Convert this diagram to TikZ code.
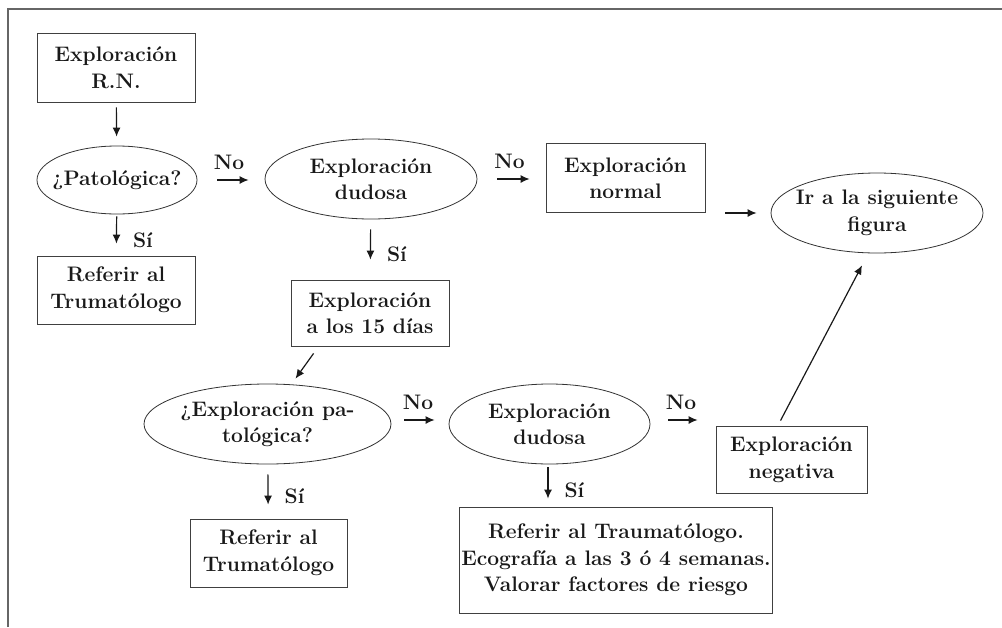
\documentclass[tikz,border=0pt]{standalone}
\usepackage{fontspec}
\usetikzlibrary{shapes.geometric,arrows.meta,calc}
\begin{document}
\begin{tikzpicture}[x=1pt,y=-1pt,
  every node/.style={font=\fontsize{21}{26.5}\selectfont\bfseries\addfontfeatures{LetterSpace=2}, text=black!90},
  box/.style={draw=black!75, line width=0.8pt, rectangle, align=center, inner sep=0pt},
  oval/.style={draw=black!80, line width=0.8pt, ellipse, align=center, inner xsep=-60pt, inner ysep=-30pt, minimum height=80pt},
  arr/.style={-{Latex[length=9pt,width=8pt]}, line width=1.2pt, black!90},
  lbl/.style={inner sep=2pt},
  si/.style={lbl, right, xshift=14pt, yshift=-5pt},
  no/.style={lbl, above, yshift=8pt, xshift=-2pt}
]
\useasboundingbox (0,0) rectangle (1002,627);
\draw[black!60, line width=1.2pt] (8,627) -- (8,9) -- (1002,9);

% row 1
\node[box, minimum width=158pt, minimum height=69pt] (rn) at (116,67.5) {Exploración\\R.N.};
\node[oval, minimum width=160pt, minimum height=68pt] (pat) at (117,180) {¿Patológica?};
\node[oval, minimum width=212pt] (dud1) at (371,179) {Exploración\\dudosa};
\node[box, minimum width=159pt, minimum height=69pt] (norm) at (625.5,178) {Exploración\\normal};
\node[oval, minimum width=212pt] (sig) at (877,213) {Ir a la siguiente\\figura};
\node[box, minimum width=158pt, minimum height=68pt] (ref1) at (116,290) {Referir al\\Trumatólogo};
\node[box, minimum width=158pt, minimum height=66pt] (d15) at (370,313) {Exploración\\a los 15 días};

% row 2
\node[oval, minimum width=247pt] (pat2) at (267.5,424) {¿Exploración pa-\\tológica?};
\node[oval, minimum width=201pt] (dud2) at (549.5,424) {Exploración\\dudosa};
\node[box, minimum width=151pt, minimum height=67pt] (neg) at (791.5,459.5) {Exploración\\negativa};
\node[box, minimum width=157pt, minimum height=68pt] (ref2) at (268.5,553) {Referir al\\Trumatólogo};
\node[box, minimum width=313pt, minimum height=106pt] (trau) at (616,560) {Referir al Traumatólogo.\\Ecografía a las 3 ó 4 semanas.\\Valorar factores de riesgo};

% connectors
\draw[arr, shorten <=5pt, shorten >=9pt] (rn) -- (pat);
\draw[arr, shorten <=2pt, shorten >=12pt] (pat) -- node[si] {Sí} (ref1);
\draw[arr, shorten <=20pt, shorten >=16pt] (pat.east) -- node[no] {No} (pat.east -| dud1.west);
\draw[arr, shorten <=10pt, shorten >=20pt] (dud1) -- node[si] {Sí} (d15);
\draw[arr, shorten <=20pt, shorten >=16pt] (dud1.east) -- node[no] {No} (dud1.east -| norm.west);
\draw[arr, shorten <=20pt, shorten >=14pt] (norm.east |- sig.west) -- (sig.west);
\draw[arr] ([xshift=23pt,yshift=-7pt]d15.south west) -- ([xshift=28pt,yshift=5pt]pat2.north);
\draw[arr, shorten <=13pt, shorten >=14pt] ([yshift=4pt]pat2.east) -- node[no] {No} ([yshift=4pt]pat2.east -| dud2.west);
\draw[arr, shorten <=18pt, shorten >=18pt] ([yshift=4pt]dud2.east) -- node[no] {No} ([yshift=4pt]dud2.east -| neg.west);
\draw[arr] ([xshift=-11pt,yshift=5pt]neg.north) -- ([xshift=-15pt,yshift=-12pt]sig.south);
\draw[arr, shorten <=10pt, shorten >=14pt] (pat2) -- node[si] {Sí} (ref2);
\draw[arr, shorten <=3pt, shorten >=8pt] ([xshift=-1.5pt]dud2.south) -- node[si] {Sí} ([xshift=-1.5pt]dud2.south |- trau.north);
\end{tikzpicture}
\end{document}
